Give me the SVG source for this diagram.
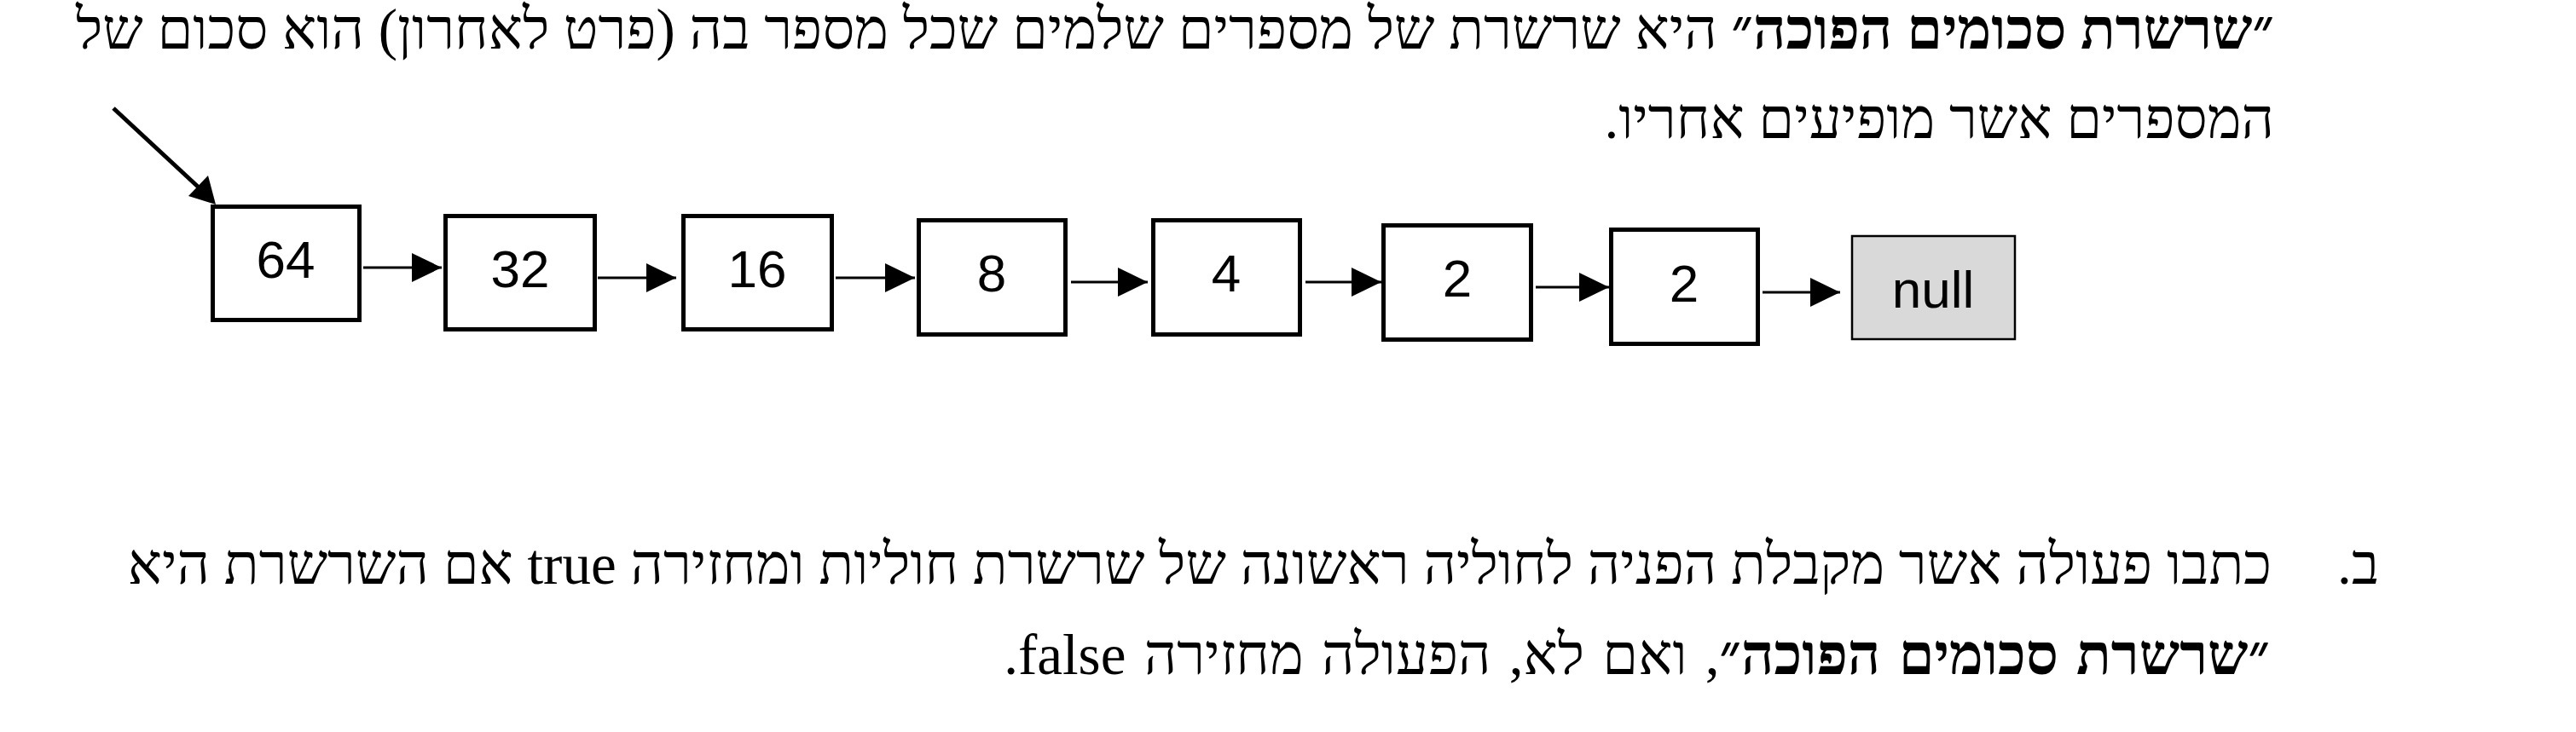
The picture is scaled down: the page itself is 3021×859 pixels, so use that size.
<svg xmlns="http://www.w3.org/2000/svg" width="3021" height="859" viewBox="0 0 3021 859">
<style>
.he{font-family:"Liberation Serif","DejaVu Serif","DejaVu Sans",serif;font-size:67px;fill:#000}
.b{font-weight:bold}
.box{fill:#fff;stroke:#000;stroke-width:5}
.nullbox{fill:#d9d9d9;stroke:#000;stroke-width:2.5}
.lbl{font-family:"Liberation Sans",Arial,sans-serif;font-size:62px;fill:#000;text-anchor:middle}
.edge{stroke:#000;stroke-width:3;fill:none;marker-end:url(#ah)}
</style>
<defs>
<marker id="ah" markerUnits="userSpaceOnUse" markerWidth="35" markerHeight="34" refX="35" refY="17" orient="auto" viewBox="0 0 35 34">
<path d="M0,0 L35,17 L0,34 z" fill="#000"/>
</marker>
</defs>
<rect width="3021" height="859" fill="#fff"/>
<g id="text">
<text class="he" x="2667" y="57" direction="rtl" text-anchor="start"><tspan class="b">״שרשרת סכומים הפוכה״</tspan> היא שרשרת של מספרים שלמים שכל מספר בה (פרט לאחרון) הוא סכום של</text>
<text class="he" x="2667" y="162" direction="rtl" text-anchor="start">המספרים אשר מופיעים אחריו.</text>
<text class="he" x="2790" y="685" direction="rtl" text-anchor="start">ב.</text>
<text class="he" x="2664" y="685" direction="rtl" text-anchor="start">כתבו פעולה אשר מקבלת הפניה לחוליה ראשונה של שרשרת חוליות ומחזירה true אם השרשרת היא</text>
<text class="he" x="2662" y="791" direction="rtl" text-anchor="start" word-spacing="4.5"><tspan class="b">״שרשרת סכומים הפוכה״</tspan>, ואם לא, הפעולה מחזירה false.</text>
</g>
<g id="connectors">
<line x1="133" y1="127" x2="246" y2="232" stroke="#000" stroke-width="5"/>
<polygon points="253,240 221,230 244,206" fill="#000"/>
<line class="edge" x1="426" y1="314" x2="518" y2="314"/>
<line class="edge" x1="701" y1="326" x2="793" y2="326"/>
<line class="edge" x1="980" y1="326" x2="1073" y2="326"/>
<line class="edge" x1="1256" y1="331" x2="1346" y2="331"/>
<line class="edge" x1="1531" y1="331" x2="1620" y2="331"/>
<line class="edge" x1="1801" y1="337" x2="1887" y2="337"/>
<line class="edge" x1="2067" y1="343" x2="2158" y2="343"/>
</g>
<g id="n64"><rect class="box" x="249.5" y="242.5" width="172" height="133"/><text class="lbl" x="335" y="326">64</text></g>
<g id="n32"><rect class="box" x="522.5" y="253.5" width="175" height="133"/><text class="lbl" x="610" y="337">32</text></g>
<g id="n16"><rect class="box" x="801.5" y="253.5" width="174" height="133"/><text class="lbl" x="888" y="337">16</text></g>
<g id="n8"><rect class="box" x="1077.5" y="258.5" width="172" height="134"/><text class="lbl" x="1163" y="342">8</text></g>
<g id="n4"><rect class="box" x="1352.5" y="258.5" width="172" height="134"/><text class="lbl" x="1438" y="342">4</text></g>
<g id="n2a"><rect class="box" x="1622.5" y="264.5" width="173" height="134"/><text class="lbl" x="1709" y="348">2</text></g>
<g id="n2b"><rect class="box" x="1889.5" y="269.5" width="172" height="134"/><text class="lbl" x="1975" y="354">2</text></g>
<g id="nnull"><rect class="nullbox" x="2172" y="277" width="191" height="121"/><text class="lbl" x="2267" y="361">null</text></g>
</svg>
